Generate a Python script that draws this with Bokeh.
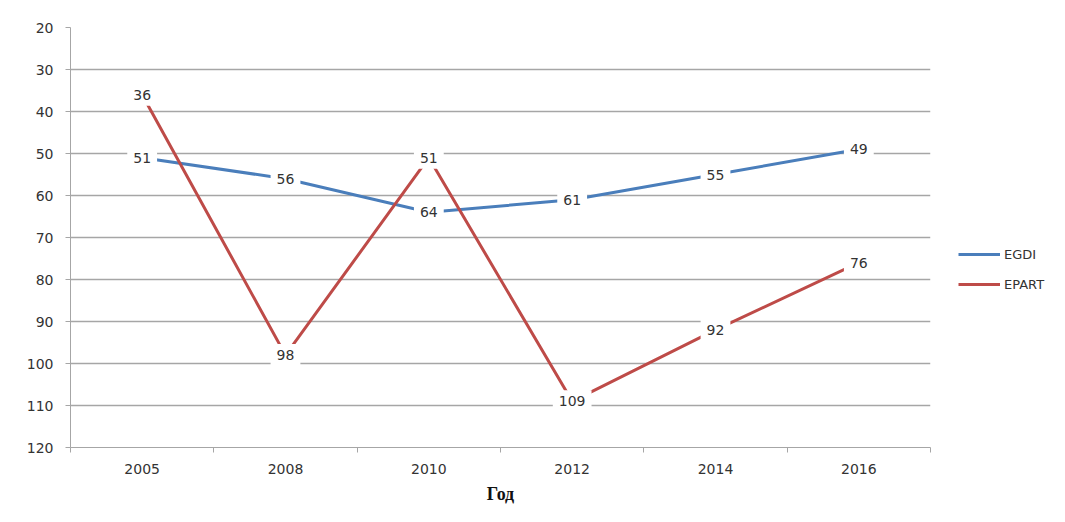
from bokeh.plotting import figure
from bokeh.models import (Range1d, LinearAxis, FixedTicker,
                          ColumnDataSource, Legend, LegendItem)
from bokeh.core.properties import value
from bokeh.embed import file_html
from bokeh.resources import INLINE

years = ["2005", "2008", "2010", "2012", "2014", "2016"]
egdi = [51, 56, 64, 61, 55, 49]
epart = [36, 98, 51, 109, 92, 76]
y_ticks = [20, 30, 40, 50, 60, 70, 80, 90, 100, 110, 120]

BLUE = "#4a7ebb"
RED = "#be4b48"
GRID = "#a6a6a6"
TXT = "#333333"
FONT = "DejaVu Sans"

n = len(years)
xpos = [i + 0.5 for i in range(n)]

p = figure(width=1057, height=514, x_range=Range1d(0, n),
           y_range=Range1d(y_ticks[-1], y_ticks[0]),
           x_axis_location=None, y_axis_location=None,
           output_backend="svg", toolbar_location=None,
           min_border_left=70, min_border_top=27, min_border_right=127,
           min_border_bottom=67)
p.frame_width = 860
p.frame_height = 420
p.outline_line_color = None

# y axis
yax = LinearAxis(ticker=FixedTicker(ticks=y_ticks))
yax.axis_line_color = GRID
yax.major_tick_line_color = GRID
yax.major_tick_out = 5
yax.major_tick_in = 0
yax.minor_tick_line_color = None
yax.major_label_text_font = FONT
yax.major_label_text_font_size = "14px"
yax.major_label_text_color = TXT
yax.major_label_standoff = 12
p.add_layout(yax, "left")

# tick-only axis at category boundaries
edge_ticks = list(range(n + 1))
eax = LinearAxis(ticker=FixedTicker(ticks=edge_ticks),
                 major_label_overrides={t: "" for t in edge_ticks})
eax.axis_line_color = GRID
eax.major_tick_line_color = GRID
eax.major_tick_out = 5
eax.major_tick_in = 0
eax.minor_tick_line_color = None
eax.major_label_text_font_size = "1px"
eax.major_label_standoff = 0
p.add_layout(eax, "below")

# category labels axis
cax = LinearAxis(ticker=FixedTicker(ticks=xpos),
                 major_label_overrides={x: y for x, y in zip(xpos, years)})
cax.axis_line_color = None
cax.major_tick_line_color = None
cax.minor_tick_line_color = None
cax.major_label_text_font = FONT
cax.major_label_text_font_size = "14px"
cax.major_label_text_color = TXT
cax.major_label_standoff = 5
cax.axis_label = "Год"
cax.axis_label_text_font = "Liberation Serif"
cax.axis_label_text_font_style = "bold"
cax.axis_label_text_font_size = "18px"
cax.axis_label_text_color = "#111111"
cax.axis_label_standoff = 7
p.add_layout(cax, "below")

p.xgrid.visible = False
p.ygrid.ticker = FixedTicker(ticks=y_ticks)
p.ygrid.grid_line_color = GRID
p.ygrid.grid_line_width = 1.3

src = ColumnDataSource(dict(x=xpos, egdi=egdi, epart=epart,
                            egdi_t=[str(v) for v in egdi],
                            epart_t=[str(v) for v in epart]))

r1 = p.line("x", "egdi", source=src, line_color=BLUE, line_width=3)
r2 = p.line("x", "epart", source=src, line_color=RED, line_width=3)

for col, tcol in (("egdi", "egdi_t"), ("epart", "epart_t")):
    p.text(x="x", y=col, text=tcol, source=src, text_align="center",
           text_baseline="middle", text_font=value(FONT), text_font_size="14px",
           text_color=TXT, background_fill_color="white", padding=6)

legend = Legend(items=[LegendItem(label="EGDI", renderers=[r1]),
                       LegendItem(label="EPART", renderers=[r2])],
                location=(28, 153), orientation="vertical")
legend.border_line_color = None
legend.background_fill_alpha = 0
legend.glyph_width = 42
legend.glyph_height = 20
legend.label_height = 20
legend.label_standoff = 4
legend.spacing = 10
legend.padding = 0
legend.margin = 0
legend.label_text_font = FONT
legend.label_text_font_size = "13px"
legend.label_text_color = TXT
p.add_layout(legend, "right")

open("out.html", "w").write(file_html(p, INLINE))
